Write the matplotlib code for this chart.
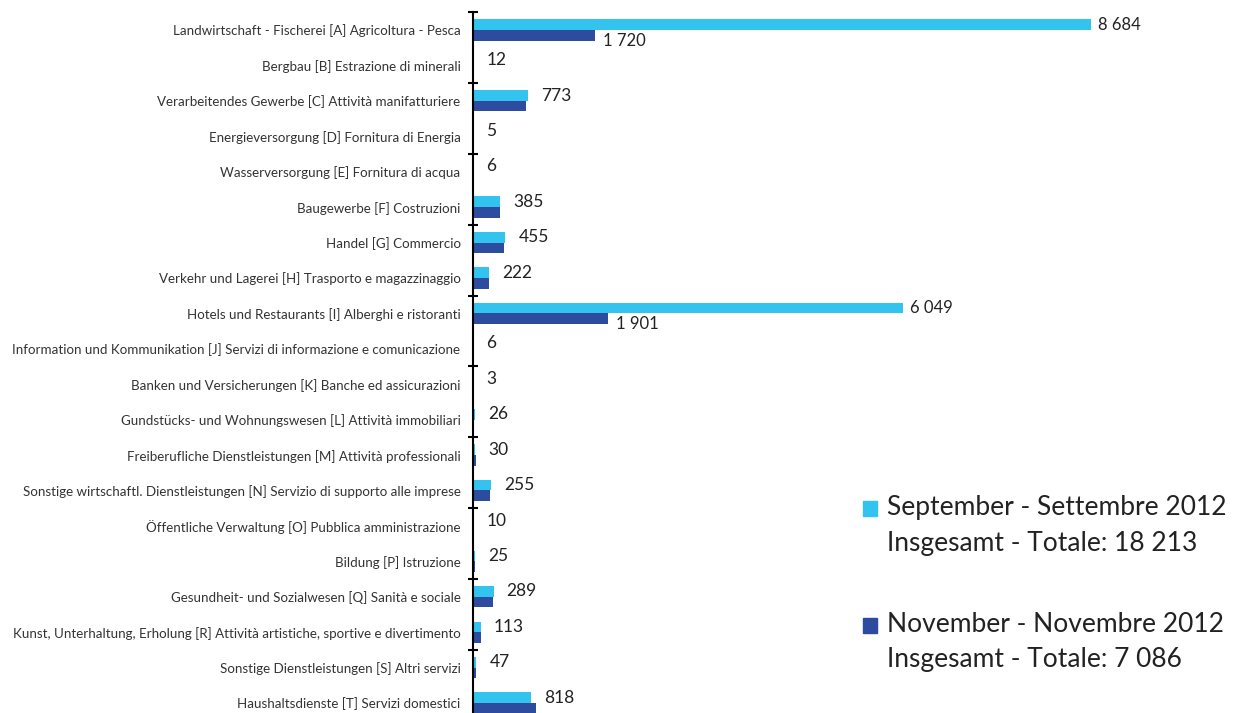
import numpy as np
import matplotlib.pyplot as plt
from matplotlib.patches import Rectangle

plt.rcParams['font.family'] = ['Lato', 'DejaVu Sans']

categories = [
    'Landwirtschaft - Fischerei [A] Agricoltura - Pesca',
    'Bergbau [B] Estrazione di minerali',
    'Verarbeitendes Gewerbe [C] Attività manifatturiere',
    'Energieversorgung [D] Fornitura di Energia',
    'Wasserversorgung [E] Fornitura di acqua',
    'Baugewerbe [F] Costruzioni',
    'Handel [G] Commercio',
    'Verkehr und Lagerei [H] Trasporto e magazzinaggio',
    'Hotels und Restaurants [I] Alberghi e ristoranti',
    'Information und Kommunikation [J] Servizi di informazione e comunicazione',
    'Banken und Versicherungen [K] Banche ed assicurazioni',
    'Gundstücks- und Wohnungswesen [L] Attività immobiliari',
    'Freiberufliche Dienstleistungen [M] Attività professionali',
    'Sonstige wirtschaftl. Dienstleistungen [N] Servizio di supporto alle imprese',
    'Öffentliche Verwaltung [O] Pubblica amministrazione',
    'Bildung [P] Istruzione',
    'Gesundheit- und Sozialwesen [Q] Sanità e sociale',
    'Kunst, Unterhaltung, Erholung [R] Attività artistiche, sportive e divertimento',
    'Sonstige Dienstleistungen [S] Altri servizi',
    'Haushaltsdienste [T] Servizi domestici',
]
september = [8684, 12, 773, 5, 6, 385, 455, 222, 6049, 6, 3, 26, 30, 255, 10, 25, 289, 113, 47, 818]
november = [1720, 8, 740, 3, 4, 380, 440, 220, 1901, 5, 2, 10, 45, 240, 5, 30, 275, 110, 40, 885]

legend_sep = ['September - Settembre 2012', 'Insgesamt - Totale: 18 213']
legend_nov = ['November - Novembre 2012', 'Insgesamt - Totale: 7 086']

c_sep = '#32C3EF'
c_nov = '#2D4C9F'


def fmt(v):
    return f'{v:,}'.replace(',', ' ')


W, H = 1240, 713
fig = plt.figure(figsize=(W / 100, H / 100), dpi=100)
ax = fig.add_axes([473 / W, 1 - 720.7 / H, 767 / W, (720.7 - 12.3) / H])

y = np.arange(len(categories))
bh = 0.30
ax.barh(y - bh / 2, september, height=bh, color=c_sep)
ax.barh(y + bh / 2, november, height=bh, color=c_nov)

px_per_unit = 618 / 8684
ax.set_xlim(0, 767 / px_per_unit)
ax.set_ylim(len(categories) - 0.5, -0.5)

for i, (s, n) in enumerate(zip(september, november)):
    if s > 1000:
        ax.text(s + 7 / px_per_unit, i - bh / 2, fmt(s), va='center', ha='left',
                fontsize=12, color='#222222')
        ax.text(n + 8 / px_per_unit, i + bh / 2 + 0.15, fmt(n), va='center', ha='left',
                fontsize=12, color='#222222')
    else:
        ax.text(s + 13 / px_per_unit, i - bh / 2, fmt(s), va='center', ha='left',
                fontsize=12.5, color='#222222')

for sp in ['top', 'right', 'bottom']:
    ax.spines[sp].set_visible(False)
ax.spines['left'].set_linewidth(1.5)
ax.set_xticks([])
ax.set_yticks(np.arange(-0.5, len(categories), 2))
ax.set_yticklabels([])
ax.tick_params(axis='y', which='major', direction='inout', length=7, width=1.5)
ax.set_yticks(y, minor=True)
ax.set_yticklabels(categories, minor=True, fontsize=9.6, color='#333333')
ax.tick_params(axis='y', which='minor', length=0, pad=9)

# legend
for (l1, l2), col, ys in [(legend_sep, c_sep, 508), (legend_nov, c_nov, 625)]:
    fig.add_artist(Rectangle((863 / W, 1 - (ys + 7.5) / H), 14 / W, 15 / H,
                             transform=fig.transFigure, color=col))
    fig.text(887 / W, 1 - ys / H, l1, va='center', ha='left', fontsize=19, color='#222222')
    fig.text(887 / W, 1 - (ys + 35) / H, l2, va='center', ha='left', fontsize=19, color='#222222')

fig.savefig('out.png', dpi=100)
